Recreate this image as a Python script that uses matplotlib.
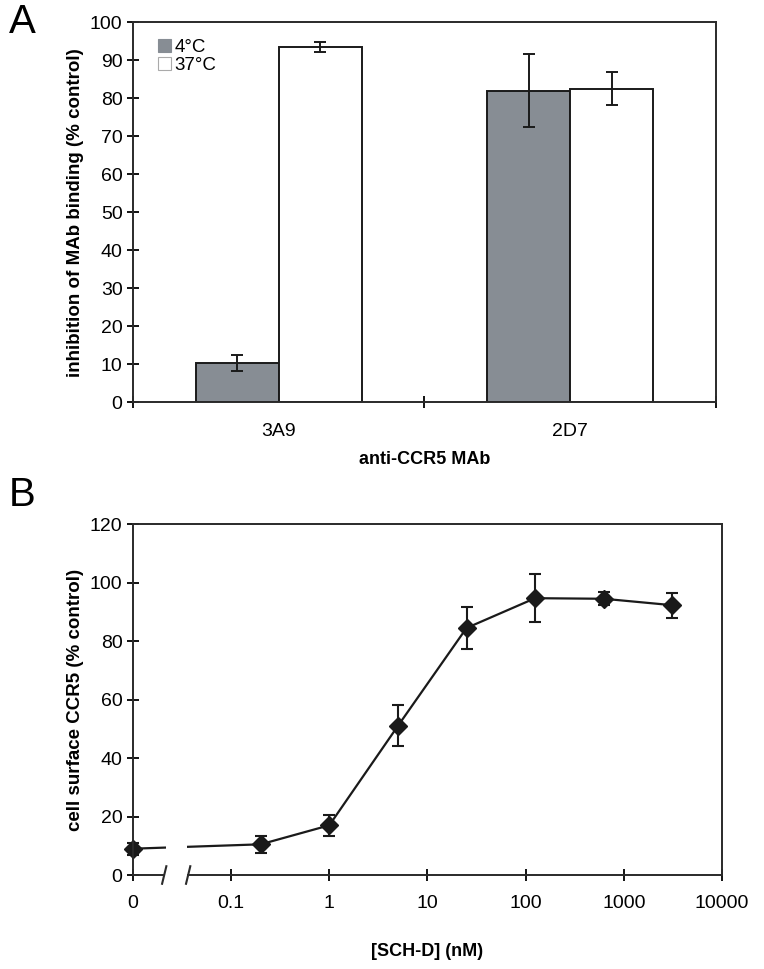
import matplotlib.pyplot as plt
import numpy as np

plt.rcParams['font.family'] = ['Liberation Sans', 'DejaVu Sans']

# panel A data
mabs = ['3A9', '2D7']
inhib_4c = [10.3, 82.0]
inhib_4c_err = [2.0, 9.6]
inhib_37c = [93.5, 82.5]
inhib_37c_err = [1.2, 4.3]

# panel B data
sch_d_nM = [0, 0.2, 1, 5, 25, 125, 625, 3125]
ccr5_surface = [9.0, 10.5, 17.0, 51.0, 84.5, 94.7, 94.5, 92.3]
ccr5_err = [2.0, 3.0, 3.5, 7.0, 7.2, 8.3, 2.3, 4.3]
dec_ticks = [0.01, 0.1, 1, 10, 100, 1000, 10000]
dec_labels = ['0', '0.1', '1', '10', '100', '1000', '10000']

gray = '#878d94'
ink = '#1a1a1a'
tick_fs = 14
ylab_fs = 13.5
xlab_fs = 13

fig = plt.figure(figsize=(7.64, 9.69), dpi=100)

# ---------------- panel A ----------------
axA = fig.add_axes([0.174, 0.585, 0.763, 0.392])
x = np.arange(len(mabs))
w = 0.285
axA.bar(x - w / 2, inhib_4c, w, color=gray, edgecolor=ink, linewidth=1.4,
        label='4°C', zorder=2)
axA.bar(x + w / 2, inhib_37c, w, color='white', edgecolor=ink, linewidth=1.4,
        label='37°C', zorder=2)
axA.errorbar(x - w / 2, inhib_4c, yerr=inhib_4c_err, fmt='none', ecolor=ink,
             elinewidth=1.4, capsize=4, capthick=1.4, zorder=3)
axA.errorbar(x + w / 2, inhib_37c, yerr=inhib_37c_err, fmt='none', ecolor=ink,
             elinewidth=1.4, capsize=4, capthick=1.4, zorder=3)
axA.set_xlim(-0.5, 1.5)
axA.set_ylim(0, 100)
axA.set_yticks(np.arange(0, 101, 10))
axA.set_xticks([-0.5, 0.5, 1.5])
axA.set_xticklabels([])
axA.set_xticks(x, minor=True)
axA.set_xticklabels(mabs, minor=True)
axA.tick_params(axis='x', which='minor', length=0, pad=15, labelsize=tick_fs)
axA.tick_params(axis='x', which='major', direction='inout', length=9, width=1.3)
axA.tick_params(axis='y', direction='inout', length=9, width=1.3, labelsize=tick_fs, pad=3)
for sp in axA.spines.values():
    sp.set_linewidth(1.4)
    sp.set_color('#2a2a2a')
axA.set_xlabel('anti-CCR5 MAb', fontsize=xlab_fs, fontweight='bold', labelpad=8)
axA.set_ylabel('inhibition of MAb binding (% control)', fontsize=ylab_fs,
               fontweight='bold', labelpad=4)
leg = axA.legend(loc='upper left', bbox_to_anchor=(0.02, 0.99), frameon=False,
                 fontsize=13.5, handlelength=0.7, handleheight=0.7,
                 handletextpad=0.2, labelspacing=0.05, borderaxespad=0.3)
leg.legend_handles[0].set_edgecolor(gray)
leg.legend_handles[1].set_edgecolor('#aaaaaa')
leg.legend_handles[1].set_linewidth(0.8)
leg.legend_handles[0].set_linewidth(0.8)
fig.text(0.012, 0.977, 'A', fontsize=29, va='center', ha='left')

# ---------------- panel B ----------------
axB = fig.add_axes([0.174, 0.097, 0.771, 0.362])
xpos = np.where(np.array(sch_d_nM) == 0, 0.01, np.array(sch_d_nM, dtype=float))
axB.set_xscale('log')
axB.errorbar(xpos, ccr5_surface, yerr=ccr5_err, fmt='-D', color=ink,
             markersize=9, linewidth=1.6, elinewidth=1.5, capsize=4,
             capthick=1.5, zorder=2, clip_on=False)
axB.set_xlim(0.01, 10000)
axB.set_ylim(0, 120)
axB.set_yticks(np.arange(0, 121, 20))
axB.set_xticks(dec_ticks)
axB.set_xticklabels(dec_labels)
axB.xaxis.set_minor_locator(plt.NullLocator())
axB.tick_params(axis='x', direction='inout', length=9, width=1.3, labelsize=tick_fs, pad=10)
axB.tick_params(axis='y', direction='inout', length=9, width=1.3, labelsize=tick_fs, pad=3)
for sp in axB.spines.values():
    sp.set_linewidth(1.4)
    sp.set_color('#2a2a2a')
axB.spines['bottom'].set_visible(False)

# axis break between 0 and 0.1
g0, g1 = 0.0215, 0.0355
axB.axvspan(g0, g1, ymin=0.01, ymax=0.12, color='white', zorder=3, lw=0)
tr = axB.get_xaxis_transform()
axB.plot([0.01, g0 * 0.97], [0, 0], color='#2a2a2a', lw=1.4, transform=tr,
         clip_on=False, zorder=4)
axB.plot([g1 * 1.03, 10000], [0, 0], color='#2a2a2a', lw=1.4, transform=tr,
         clip_on=False, zorder=4)
for gx in (g0 * 0.97, g1 * 1.03):
    axB.plot([gx * 0.95, gx * 1.05], [-0.025, 0.025], color='#2a2a2a', lw=1.5,
             transform=tr, clip_on=False, zorder=4)

axB.set_xlabel('[SCH-D] (nM)', fontsize=xlab_fs, fontweight='bold', labelpad=22)
axB.set_ylabel('cell surface CCR5 (% control)', fontsize=ylab_fs, fontweight='bold',
               labelpad=4)
fig.text(0.012, 0.489, 'B', fontsize=29, va='center', ha='left')

fig.savefig('out.png', dpi=100)
